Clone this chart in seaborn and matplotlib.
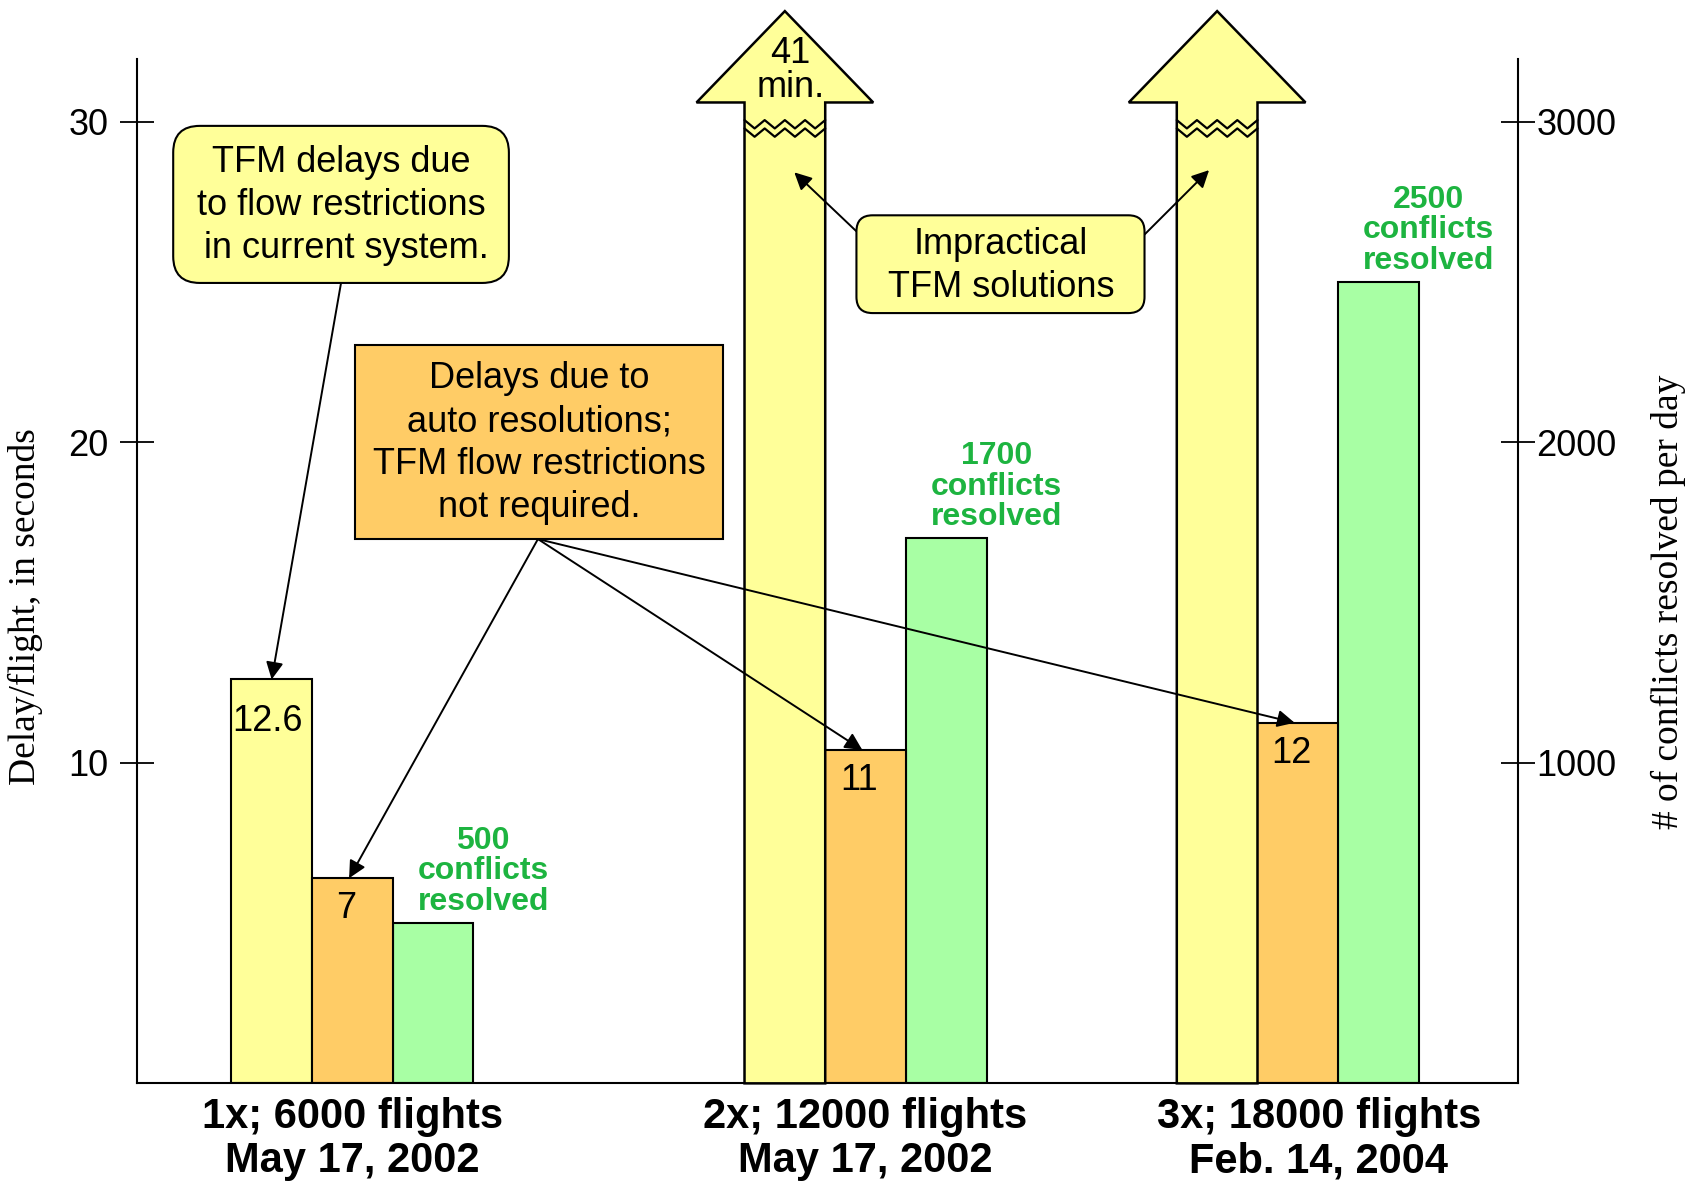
import numpy as np
import pandas as pd
import matplotlib
matplotlib.use("Agg")
import matplotlib.pyplot as plt
from matplotlib.patches import FancyBboxPatch, Rectangle, Polygon
import seaborn as sns

# data
groups = ["1x; 6000 flights\nMay 17, 2002",
          "2x; 12000 flights\nMay 17, 2002",
          "3x; 18000 flights\nFeb. 14, 2004"]
tfm_delay = [12.6, 41 * 60, np.inf]          # seconds/flight, 2x and 3x run off the chart
tfm_label = ["12.6", "41\nmin.", ""]
auto_delay = [6.4, 10.4, 11.25]              # bar heights as drawn
auto_label = ["7", "11", "12"]
conflicts = [500, 1700, 2500]

# layout (x in bar-width units)
group_center = np.array([2.673, 9.033, 14.39])
xtick_pos = [2.67, 9.03, 14.65]
clip_top = 30.6      # where off-scale bars turn into arrows
tip_top = 33.45
head_half = 1.095

YELLOW = "#FFFF99"
ORANGE = "#FFCC66"
GREEN = "#A8FFA4"
GREEN_TXT = "#1DB440"

sns.set_style("white")
plt.rcParams["font.family"] = ["Liberation Sans", "DejaVu Sans"]
plt.rcParams["text.color"] = "black"
plt.rcParams["axes.labelcolor"] = "black"
plt.rcParams["xtick.color"] = "black"
plt.rcParams["ytick.color"] = "black"

fig = plt.figure(figsize=(16.87, 11.84), dpi=100)
ax = fig.add_axes([0.081, 0.085, 0.8189, 0.865])
ax2 = ax.twinx()

# delay bars (yellow + orange) on the left axis
tfm_x = group_center - 1
delay_df = pd.DataFrame({
    "x": np.concatenate([tfm_x, group_center]),
    "value": np.concatenate([np.minimum(tfm_delay, clip_top), auto_delay]),
    "series": ["TFM"] * 3 + ["auto"] * 3,
})
sns.barplot(data=delay_df, x="x", y="value", hue="series",
            palette={"TFM": YELLOW, "auto": ORANGE}, native_scale=True,
            dodge=False, width=1.0, saturation=1, edgecolor="black", linewidth=1.5,
            errorbar=None, legend=False, ax=ax, zorder=2)

# conflicts on the right axis
green_x = group_center + 1
conf_df = pd.DataFrame({"x": green_x, "conflicts": conflicts})
sns.barplot(data=conf_df, x="x", y="conflicts", color=GREEN, native_scale=True,
            width=1.0 / np.diff(green_x).min(), saturation=1, edgecolor="black",
            linewidth=1.5, errorbar=None, ax=ax2)

ax.set_zorder(ax2.get_zorder() + 1)
ax.patch.set_visible(False)

# off-scale TFM bars drawn as arrows with a break mark
for xc, val in zip(tfm_x, tfm_delay):
    if val <= clip_top:
        continue
    xl, xr = xc - 0.5, xc + 0.5
    pts = [(xl, 0), (xl, clip_top), (xc - head_half, clip_top), (xc, tip_top),
           (xc + head_half, clip_top), (xr, clip_top), (xr, 0)]
    ax.add_patch(Polygon(pts, closed=True, fc=YELLOW, ec="black", lw=1.8,
                         zorder=3, clip_on=False, joinstyle="miter"))
    zx = np.linspace(xl, xr, 9)
    wig = 0.13 * np.array([1, -1] * 4 + [1])
    ax.plot(zx, 29.92 + wig, color="black", lw=1.6, zorder=4)
    ax.plot(zx, 29.66 + wig, color="black", lw=1.6, zorder=4)

# value labels inside bars
for xc, val, lab in zip(tfm_x, tfm_delay, tfm_label):
    if not lab:
        continue
    if val <= clip_top:
        ax.text(xc - 0.05, val - 1.3, lab, ha="center", va="center", fontsize=26, zorder=5)
    else:
        ax.text(xc + 0.07, 31.6, lab, ha="center", va="center", fontsize=26,
                linespacing=0.95, zorder=5)
for xc, val, lab in zip(group_center, auto_delay, auto_label):
    ax.text(xc - 0.08, val - 0.95, lab, ha="center", va="center", fontsize=26, zorder=5)
for xc, val in zip(green_x, conflicts):
    ax2.text(xc + 0.62, val + 20, f"{val}\nconflicts\nresolved", ha="center", va="bottom",
             fontsize=23, fontweight="bold", color=GREEN_TXT, linespacing=1.02)

# callout boxes
aspect = 80.7 / 32.06
ax.add_patch(FancyBboxPatch((0.453, 24.97), 4.16, 4.9,
                            boxstyle="round,pad=0,rounding_size=0.33",
                            mutation_aspect=aspect, fc=YELLOW, ec="black", lw=1.5, zorder=6))
ax.text(2.533, 27.38, "TFM delays due\nto flow restrictions\n in current system.",
        ha="center", va="center", fontsize=26, linespacing=1.29, zorder=7)

ax.add_patch(Rectangle((2.707, 16.98), 4.56, 6.04, fc=ORANGE, ec="black", lw=1.5, zorder=6))
ax.text(4.987, 19.97, "Delays due to\nauto resolutions;\nTFM flow restrictions\nnot required.",
        ha="center", va="center", fontsize=26, linespacing=1.29, zorder=7)

ax.add_patch(FancyBboxPatch((8.92, 24.03), 3.57, 3.05,
                            boxstyle="round,pad=0,rounding_size=0.2",
                            mutation_aspect=aspect, fc=YELLOW, ec="black", lw=1.5, zorder=6))
ax.text(10.71, 25.5, "Impractical\nTFM solutions", ha="center", va="center",
        fontsize=26, linespacing=1.29, zorder=7)

arrow_kw = dict(arrowstyle="-|>", color="black", lw=1.4, mutation_scale=26,
                shrinkA=0, shrinkB=0)
ax.annotate("", xy=(tfm_x[0], tfm_delay[0]), xytext=(2.533, 24.97),
            arrowprops=arrow_kw, zorder=5)
for xc, val in zip(group_center, auto_delay):
    ax.annotate("", xy=(xc - 0.04, val), xytext=(4.973, 16.98),
                arrowprops=arrow_kw, zorder=5)
ax.annotate("", xy=(8.15, 28.42), xytext=(8.92, 26.58), arrowprops=arrow_kw, zorder=5)
ax.annotate("", xy=(13.29, 28.49), xytext=(12.49, 26.48), arrowprops=arrow_kw, zorder=5)

# axes cosmetics
ax.set_xlim(0, 17.12)
ax.set_ylim(0, 31.95)
ax2.set_ylim(0, 3195)
ax.set_yticks([10, 20, 30])
ax2.set_yticks([1000, 2000, 3000])
ax.set_xticks(xtick_pos)
ax.set_xticklabels(groups, fontsize=30, fontweight="bold", linespacing=1.13)
ax.tick_params(axis="x", length=0, pad=10)
ax.tick_params(axis="y", direction="inout", length=24, width=1.3, labelsize=26,
               pad=8, color="black")
ax2.tick_params(axis="y", direction="inout", length=24, width=1.3, labelsize=26,
                pad=1, color="black")

ax.set_xlabel("")
ax2.set_xlabel("")
ax.set_ylabel("Delay/flight, in seconds", family="Liberation Serif", fontsize=27)
ax2.set_ylabel("# of conflicts resolved per day", family="Liberation Serif",
               fontsize=27, rotation=90)
ax.yaxis.set_label_coords(-0.068, 0.466)
ax2.yaxis.set_label_coords(1.096, 0.47)

for a in (ax, ax2):
    a.spines["top"].set_visible(False)
    for s in a.spines.values():
        s.set_color("black")
        s.set_linewidth(1.5)
ax.spines["right"].set_visible(False)
ax2.spines["left"].set_visible(False)
ax2.spines["bottom"].set_visible(False)

fig.savefig("out.png", dpi=100)
